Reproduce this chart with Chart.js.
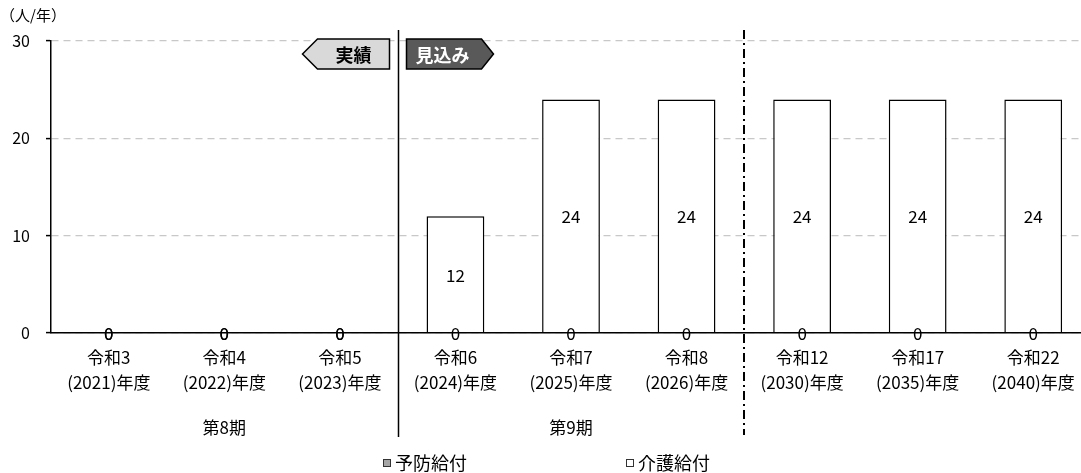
<!DOCTYPE html>
<html><head><meta charset="utf-8">
<script src="https://cdn.jsdelivr.net/npm/chart.js@4.4.1/dist/chart.umd.min.js"></script>
<style>
html,body{margin:0;padding:0;background:#fff;overflow:hidden;width:1081px;height:473px;}
#wrap{position:relative;width:1081px;height:473px;overflow:hidden;}
canvas{display:block;}
</style></head><body>
<div id="wrap"><canvas id="c" width="1091" height="473"></canvas></div>
<script>
// ---- data ----
const categories = [
  ['令和3','(2021)年度'],
  ['令和4','(2022)年度'],
  ['令和5','(2023)年度'],
  ['令和6','(2024)年度'],
  ['令和7','(2025)年度'],
  ['令和8','(2026)年度'],
  ['令和12','(2030)年度'],
  ['令和17','(2035)年度'],
  ['令和22','(2040)年度']
];
const seriesNames = ['予防給付','介護給付'];
const yobouValues = [0,0,0,0,0,0,0,0,0];
const kaigoValues = [0,0,0,12,24,24,24,24,24];
const yTickValues = [0,10,20,30];
const unitLabel = '（人/年）';
const periodLabels = ['第8期','第9期'];
const periodCategoryIndex = [1,4];
const badgeLabels = ['実績','見込み'];

const FONT = "'Noto Sans CJK JP','Noto Sans',sans-serif";
Chart.defaults.font.family = FONT;
Chart.defaults.color = '#000';

const decor = {
  id:'decor',
  afterDatasetsDraw(chart){
    const ctx = chart.ctx;
    ctx.save();
    ctx.font = '17px ' + FONT;
    ctx.fillStyle = '#000';
    ctx.textAlign = 'center';
    ctx.textBaseline = 'middle';
    chart.data.datasets.forEach((ds, di) => {
      const meta = chart.getDatasetMeta(di);
      meta.data.forEach((el, i) => {
        const v = ds.data[i];
        const y = (el.y + el.base) / 2;
        ctx.fillText(String(v), el.x, y + 1);
      });
    });
    ctx.restore();
  },
  afterDraw(chart){
    const ctx = chart.ctx;
    const xs = chart.scales.x;
    const area = chart.chartArea;
    const px = i => xs.getPixelForValue(i);
    const b1 = Math.round((px(2) + px(3)) / 2) + 0.5;
    const b2 = Math.round((px(5) + px(6)) / 2);
    ctx.save();
    // unit label
    ctx.font = '15px ' + FONT;
    ctx.fillStyle = '#000';
    ctx.textAlign = 'left';
    ctx.textBaseline = 'middle';
    ctx.fillText(unitLabel, 0, 15);

    // divider lines
    ctx.strokeStyle = '#000';
    ctx.lineWidth = 1.5;
    ctx.beginPath(); ctx.moveTo(b1, area.top - 11); ctx.lineTo(b1, 437); ctx.stroke();
    ctx.lineWidth = 2;
    ctx.setLineDash([9,4,2,4]);
    ctx.beginPath(); ctx.moveTo(b2, area.top - 11); ctx.lineTo(b2, 435); ctx.stroke();
    ctx.setLineDash([]);

    // badges
    const top = area.top - 2, h = 30, mid = top + h / 2;
    ctx.lineWidth = 1.5;
    ctx.beginPath();
    ctx.moveTo(b1 - 96, mid);
    ctx.lineTo(b1 - 81, top);
    ctx.lineTo(b1 - 9, top);
    ctx.lineTo(b1 - 9, top + h);
    ctx.lineTo(b1 - 81, top + h);
    ctx.closePath();
    ctx.fillStyle = '#d9d9d9';
    ctx.fill(); ctx.stroke();
    ctx.beginPath();
    ctx.moveTo(b1 + 8, top);
    ctx.lineTo(b1 + 83, top);
    ctx.lineTo(b1 + 95, mid);
    ctx.lineTo(b1 + 83, top + h);
    ctx.lineTo(b1 + 8, top + h);
    ctx.closePath();
    ctx.fillStyle = '#595959';
    ctx.fill(); ctx.stroke();
    ctx.font = 'bold 18px ' + FONT;
    ctx.textAlign = 'center';
    ctx.textBaseline = 'middle';
    ctx.fillStyle = '#000';
    ctx.fillText(badgeLabels[0], b1 - 45, mid + 1);
    ctx.fillStyle = '#fff';
    ctx.fillText(badgeLabels[1], b1 + 44, mid + 1);

    // period labels
    ctx.font = '17px ' + FONT;
    ctx.fillStyle = '#000';
    periodLabels.forEach((t, k) => ctx.fillText(t, px(periodCategoryIndex[k]), 428));

    // legend
    const legendX = [383, 626];
    ctx.font = '18px ' + FONT;
    ctx.textAlign = 'left';
    chart.data.datasets.forEach((ds, di) => {
      const x = legendX[di];
      ctx.fillStyle = ds.backgroundColor;
      ctx.fillRect(x + 0.5, 459.5, 7, 7);
      ctx.strokeStyle = '#333';
      ctx.lineWidth = 1;
      ctx.strokeRect(x + 0.5, 459.5, 7, 7);
      ctx.fillStyle = '#000';
      ctx.fillText(ds.label, x + 12, 463);
    });
    ctx.restore();
  }
};

new Chart(document.getElementById('c'), {
  type: 'bar',
  data: {
    labels: categories,
    datasets: [
      { label: seriesNames[0], data: yobouValues, backgroundColor: '#a6a6a6', borderColor: '#000',
        borderWidth: 1.5, borderSkipped: 'bottom', barPercentage: 0.5, categoryPercentage: 1 },
      { label: seriesNames[1], data: kaigoValues, backgroundColor: '#ffffff', borderColor: '#000',
        borderWidth: 1.5, borderSkipped: 'bottom', barPercentage: 0.5, categoryPercentage: 1 }
    ]
  },
  options: {
    responsive: false,
    devicePixelRatio: 1,
    animation: false,
    layout: { padding: { left: 0, right: 0, top: 41, bottom: 0 } },
    plugins: { legend: { display: false }, tooltip: { enabled: false } },
    scales: {
      x: {
        stacked: true,
        grid: { display: false, drawTicks: false },
        border: { display: true, color: '#000', width: 1.5, z: 1 },
        ticks: { font: { size: 17, lineHeight: 1.47 }, color: '#000', padding: 12, autoSkip: false, maxRotation: 0 },
        afterFit: s => { s.height = 140; }
      },
      y: {
        stacked: true,
        min: 0, max: 30,
        afterBuildTicks: s => { s.ticks = yTickValues.map(v => ({ value: v })); },
        grid: { color: '#c8c8c8', lineWidth: 1.2, tickLength: 5, tickColor: '#000', tickWidth: 1.5 },
        border: { display: true, color: '#000', width: 1.5, dash: [7,5] },
        ticks: { font: { size: 16 }, color: '#000', padding: 16 },
        afterFit: s => { s.width = 51; }
      }
    }
  },
  plugins: [decor]
});
</script>
</body></html>
